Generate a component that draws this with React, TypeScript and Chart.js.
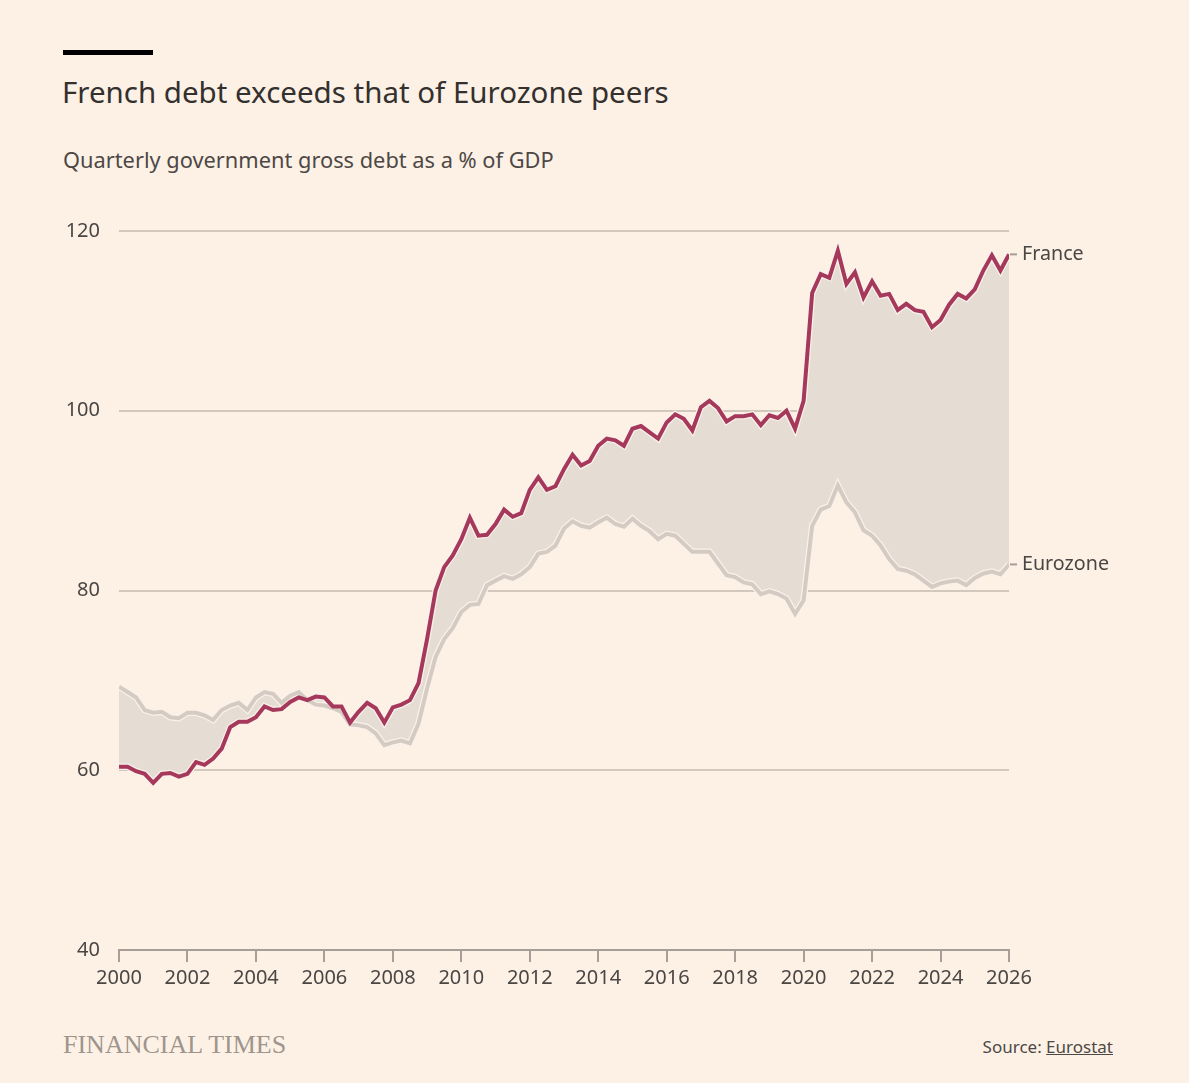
import React, { useEffect, useRef } from "react";
import { Chart, registerables } from "chart.js";

Chart.register(...registerables);

// ---- Data (quarterly, 2000 Q1 onward) ----
const startYear = 2000;
const france: number[] = [
  60.4, 60.4, 59.9, 59.6, 58.6, 59.6, 59.7, 59.3, 59.6, 60.9,
  60.6, 61.3, 62.4, 64.8, 65.4, 65.4, 65.9, 67.1, 66.7, 66.8,
  67.6, 68.1, 67.8, 68.2, 68.1, 67.1, 67.1, 65.3, 66.5, 67.5,
  66.9, 65.3, 67.0, 67.3, 67.8, 69.7, 74.6, 80.0, 82.6, 83.9,
  85.7, 88.1, 86.1, 86.2, 87.4, 89.0, 88.2, 88.6, 91.2, 92.6,
  91.2, 91.6, 93.5, 95.1, 93.9, 94.4, 96.1, 96.9, 96.7, 96.1,
  98.0, 98.3, 97.6, 96.9, 98.7, 99.6, 99.1, 97.8, 100.4, 101.1,
  100.3, 98.8, 99.4, 99.4, 99.6, 98.4, 99.5, 99.2, 100.0, 98.0,
  101.1, 113.1, 115.2, 114.8, 117.8, 114.1, 115.4, 112.6, 114.4, 112.8,
  113.0, 111.2, 111.9, 111.2, 111.0, 109.3, 110.1, 111.8, 113.0, 112.5,
  113.5, 115.6, 117.3, 115.6, 117.4,
];
const eurozone: number[] = [
  69.3, 68.7, 68.1, 66.7, 66.4, 66.5, 65.9, 65.8, 66.4, 66.4,
  66.1, 65.6, 66.7, 67.2, 67.5, 66.7, 68.1, 68.7, 68.5, 67.5,
  68.3, 68.7, 67.8, 67.3, 67.2, 66.9, 66.5, 65.1, 65.0, 64.8,
  64.1, 62.8, 63.1, 63.3, 63.0, 65.2, 69.1, 72.6, 74.6, 75.8,
  77.6, 78.4, 78.5, 80.6, 81.1, 81.6, 81.3, 81.8, 82.6, 84.1,
  84.3, 85.0, 86.9, 87.7, 87.2, 87.0, 87.6, 88.1, 87.4, 87.1,
  88.0, 87.2, 86.6, 85.7, 86.3, 86.1, 85.2, 84.3, 84.3, 84.3,
  83.0, 81.7, 81.5, 80.9, 80.7, 79.6, 79.9, 79.6, 79.1, 77.4,
  78.9, 87.2, 89.0, 89.4, 91.7, 89.8, 88.7, 86.7, 86.1, 85.0,
  83.5, 82.4, 82.2, 81.8, 81.1, 80.4, 80.8, 81.0, 81.1, 80.6,
  81.4, 81.9, 82.1, 81.8, 82.9,
];
const seriesNames = ["France", "Eurozone"];
const xTickYears = [2000, 2002, 2004, 2006, 2008, 2010, 2012, 2014, 2016, 2018, 2020, 2022, 2024, 2026];
const yTickValues = [40, 60, 80, 100, 120];

const quarterX = france.map((_, i) => startYear + i * 0.25);

// ---- Styles ----
const BG = "#fdf1e6";
const FONT = "'Noto Sans', Lato, sans-serif";
const TEXT = "#4a4644";
const FRANCE_COLOR = "#a5385b";
const EZ_COLOR = "#d5cbc2";
const FILL_COLOR = "#e5dcd3";
const HALO = "#faf2ea";
const GRID = "#d3c8bd";
const AXIS = "#a69e97";

const endLabels = {
  id: "endLabels",
  afterDatasetsDraw(chart: any) {
    const { ctx, chartArea } = chart;
    const targets = [
      { idx: 3, name: seriesNames[0] },
      { idx: 2, name: seriesNames[1] },
    ];
    ctx.save();
    targets.forEach((t) => {
      const meta = chart.getDatasetMeta(t.idx);
      const pt = meta.data[meta.data.length - 1];
      if (!pt) return;
      const y = pt.y;
      ctx.strokeStyle = AXIS;
      ctx.lineWidth = 2;
      ctx.beginPath();
      ctx.moveTo(chartArea.right + 1, y);
      ctx.lineTo(chartArea.right + 8, y);
      ctx.stroke();
      ctx.fillStyle = TEXT;
      ctx.font = `19.7px ${FONT}`;
      ctx.textBaseline = "middle";
      ctx.textAlign = "left";
      ctx.fillText(t.name, chartArea.right + 13, y);
    });
    ctx.restore();
  },
};

export default function App() {
  const canvasRef = useRef<HTMLCanvasElement | null>(null);

  useEffect(() => {
    document.body.style.background = BG;
    document.documentElement.style.background = BG;
    document.body.style.overflow = "hidden";
    const canvas = canvasRef.current;
    if (!canvas) return;
    const fr = quarterX.map((x, i) => ({ x, y: france[i] }));
    const ez = quarterX.map((x, i) => ({ x, y: eurozone[i] }));
    const chart = new Chart(canvas, {
      type: "line",
      data: {
        datasets: [
          { label: "ez-halo", data: ez, borderColor: HALO, borderWidth: 6.5, pointRadius: 0, fill: false, order: 4 },
          { label: "fr-halo", data: fr, borderColor: HALO, borderWidth: 6.5, pointRadius: 0, fill: false, order: 3 },
          { label: seriesNames[1], data: ez, borderColor: EZ_COLOR, borderWidth: 4, pointRadius: 0, fill: false, order: 2 },
          {
            label: seriesNames[0],
            data: fr,
            borderColor: FRANCE_COLOR,
            borderWidth: 4,
            pointRadius: 0,
            fill: { target: 2, above: FILL_COLOR, below: FILL_COLOR },
            order: 1,
          },
        ] as any,
      },
      options: {
        animation: false,
        responsive: false,
        devicePixelRatio: 1,
        layout: { padding: { left: 0, right: 180, top: 30, bottom: 0 } },
        elements: { line: { tension: 0, borderJoinStyle: "miter", borderCapStyle: "butt" } },
        plugins: {
          legend: { display: false },
          tooltip: { enabled: false },
          filler: { drawTime: "beforeDatasetsDraw" } as any,
        },
        scales: {
          x: {
            type: "linear",
            min: 2000,
            max: 2026,
            afterFit: (s: any) => { s.height = 70; },
            afterBuildTicks: (s: any) => { s.ticks = xTickYears.map((v) => ({ value: v })); },
            ticks: {
              callback: (v: any) => String(v),
              font: { family: FONT, size: 20 },
              color: TEXT,
              padding: 4,
              maxRotation: 0,
              autoSkip: false,
            },
            grid: { drawOnChartArea: false, drawTicks: true, tickLength: 12, color: AXIS, lineWidth: 2 },
            border: { display: true, color: AXIS, width: 2 },
          },
          y: {
            type: "linear",
            min: 40,
            max: 120,
            afterFit: (s: any) => { s.width = 119; },
            afterBuildTicks: (s: any) => { s.ticks = yTickValues.map((v) => ({ value: v })); },
            ticks: {
              font: { family: FONT, size: 20 },
              color: TEXT,
              padding: 19,
            },
            grid: {
              drawTicks: false,
              lineWidth: 2,
              color: (c: any) => (c.tick && c.tick.value === 40 ? "rgba(0,0,0,0)" : GRID),
            },
            border: { display: false },
          },
        },
      },
      plugins: [endLabels],
    });
    return () => chart.destroy();
  }, []);

  return (
    <div style={{ position: "absolute", left: 0, top: 0, width: 1189, height: 1083, background: BG, fontFamily: FONT, overflow: "hidden" }}>
      <div style={{ position: "absolute", left: 63, top: 50, width: 90, height: 5, background: "#000" }} />
      <div style={{ position: "absolute", left: 62, top: 73, fontSize: 29.5, lineHeight: "38px", color: "#33302e", whiteSpace: "nowrap" }}>
        French debt exceeds that of Eurozone peers
      </div>
      <div style={{ position: "absolute", left: 63, top: 146, fontSize: 21.8, lineHeight: "28px", color: "#4d4845", whiteSpace: "nowrap" }}>
        Quarterly government gross debt as a % of GDP
      </div>
      <canvas
        ref={canvasRef}
        width={1189}
        height={820}
        style={{ position: "absolute", left: 0, top: 200, width: 1189, height: 820 }}
      />
      <div style={{ position: "absolute", left: 63, top: 1030, fontSize: 26, lineHeight: "30px", color: "#9e958d", fontFamily: "'Liberation Serif', 'DejaVu Serif', serif", whiteSpace: "nowrap" }}>
        FINANCIAL TIMES
      </div>
      <div style={{ position: "absolute", right: 1189 - 1113, top: 1036, fontSize: 17, lineHeight: "22px", color: "#4d4845", whiteSpace: "nowrap" }}>
        Source: <span style={{ textDecoration: "underline" }}>Eurostat</span>
      </div>
    </div>
  );
}
